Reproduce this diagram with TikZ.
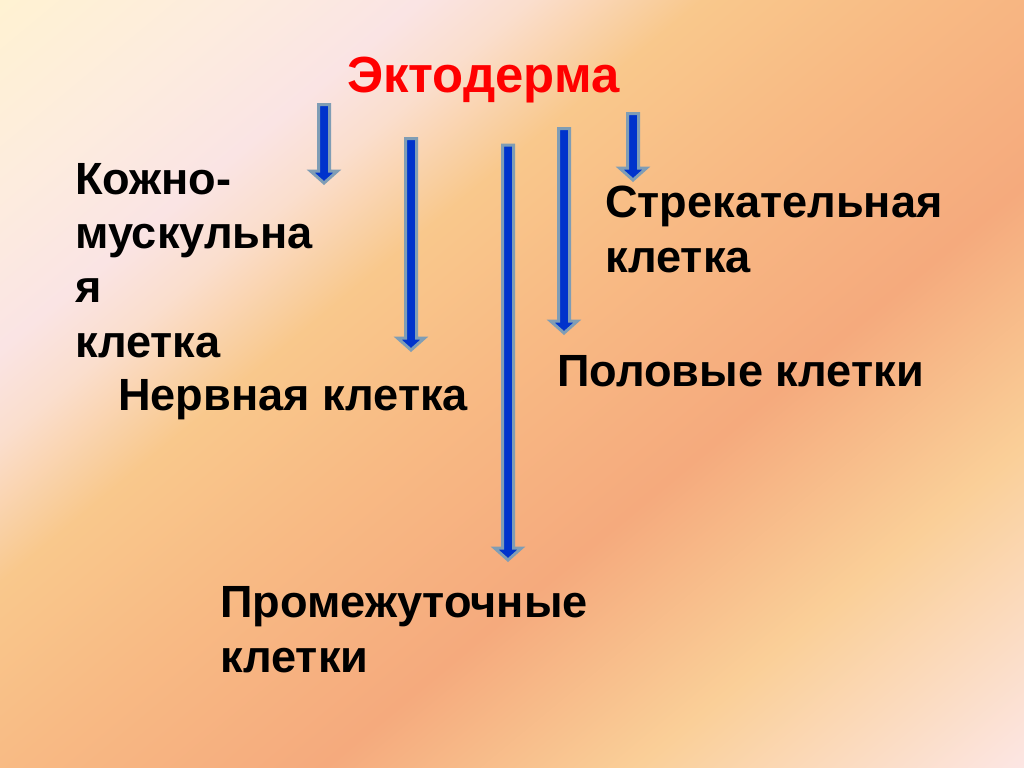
\documentclass[tikz,border=0pt]{standalone}
\usepackage{fontspec}
\setmainfont{Liberation Sans}
\usetikzlibrary{calc}
\definecolor{bgA}{RGB}{255,242,210}
\definecolor{bgB}{RGB}{253,236,222}
\definecolor{bgC}{RGB}{250,228,228}
\definecolor{bgD}{RGB}{250,222,205}
\definecolor{bgE}{RGB}{249,200,140}
\definecolor{bgF}{RGB}{248,186,132}
\definecolor{bgG}{RGB}{245,170,125}
\definecolor{bgH}{RGB}{250,207,152}
\definecolor{bgI}{RGB}{252,230,228}
\definecolor{arrfill}{RGB}{0,51,204}
\definecolor{arrline}{RGB}{127,157,181}
\definecolor{titlered}{RGB}{255,0,0}
\pgfdeclarehorizontalshading{slidebg}{100bp}{color(0bp)=(bgA); color(25bp)=(bgA); color(31bp)=(bgB); color(35.8bp)=(bgC); color(38.6bp)=(bgD); color(43bp)=(bgE); color(49bp)=(bgF); color(57bp)=(bgG); color(65bp)=(bgH); color(75bp)=(bgI); color(100bp)=(bgI)}
\tikzset{
  lbl/.style={anchor=base west, inner sep=0pt, align=left, font=\bfseries\fontsize{45.3}{54.5}\selectfont},
  ttl/.style={anchor=base west, inner sep=0pt, text=titlered, font=\bfseries\fontsize{51}{60}\selectfont},
  barrow/.style={fill=arrfill, draw=arrline, line width=3bp, line join=miter}
}
\newcommand{\blockarr}[2]{%
  \draw[barrow] ($(#1)+(-5.5,0)$) -- ($(#1)+(5.5,0)$) -- ($(#2)+(5.5,-12)$) -- ($(#2)+(13.5,-12)$) -- (#2) -- ($(#2)+(-13.5,-12)$) -- ($(#2)+(-5.5,-12)$) -- cycle;}
\begin{document}
\begin{tikzpicture}[x=1bp,y=-1bp]
\useasboundingbox (0,0) rectangle (1024,768);
\begin{scope}
  \clip (0,0) rectangle (1024,768);
  \begin{scope}[transform canvas={rotate=-50.3}]
    \shade[shading=slidebg] (0bp,-492bp) rectangle (1246bp,788bp);
  \end{scope}
\end{scope}
% texts (base anchor = baseline of the last line)
\node[ttl] (ecto) at (347,93) {Эктодерма};
\node[lbl] (kozh) at (75,357) {Кожно-\\мускульна\\я\\клетка};
\node[lbl] (nerv) at (118,410) {Нервная клетка};
\node[lbl] (prom) at (220,672) {Промежуточные\\клетки};
\node[lbl] (strek) at (605,272) {Стрекательная\\клетка};
\node[lbl] (pol) at (557,386) {Половые клетки};
% arrow ends
\coordinate (a1s) at (324,104.5); \coordinate (a1e) at (324,183);
\coordinate (a2s) at (411,138.5); \coordinate (a2e) at (411,350);
\coordinate (a3s) at (508,145);   \coordinate (a3e) at (508,560);
\coordinate (a4s) at (564,128.5); \coordinate (a4e) at (564,333);
\coordinate (a5s) at (633,113.5); \coordinate (a5e) at (633,180);
\blockarr{a1s}{a1e}
\blockarr{a2s}{a2e}
\blockarr{a3s}{a3e}
\blockarr{a4s}{a4e}
\blockarr{a5s}{a5e}
\end{tikzpicture}
\end{document}
